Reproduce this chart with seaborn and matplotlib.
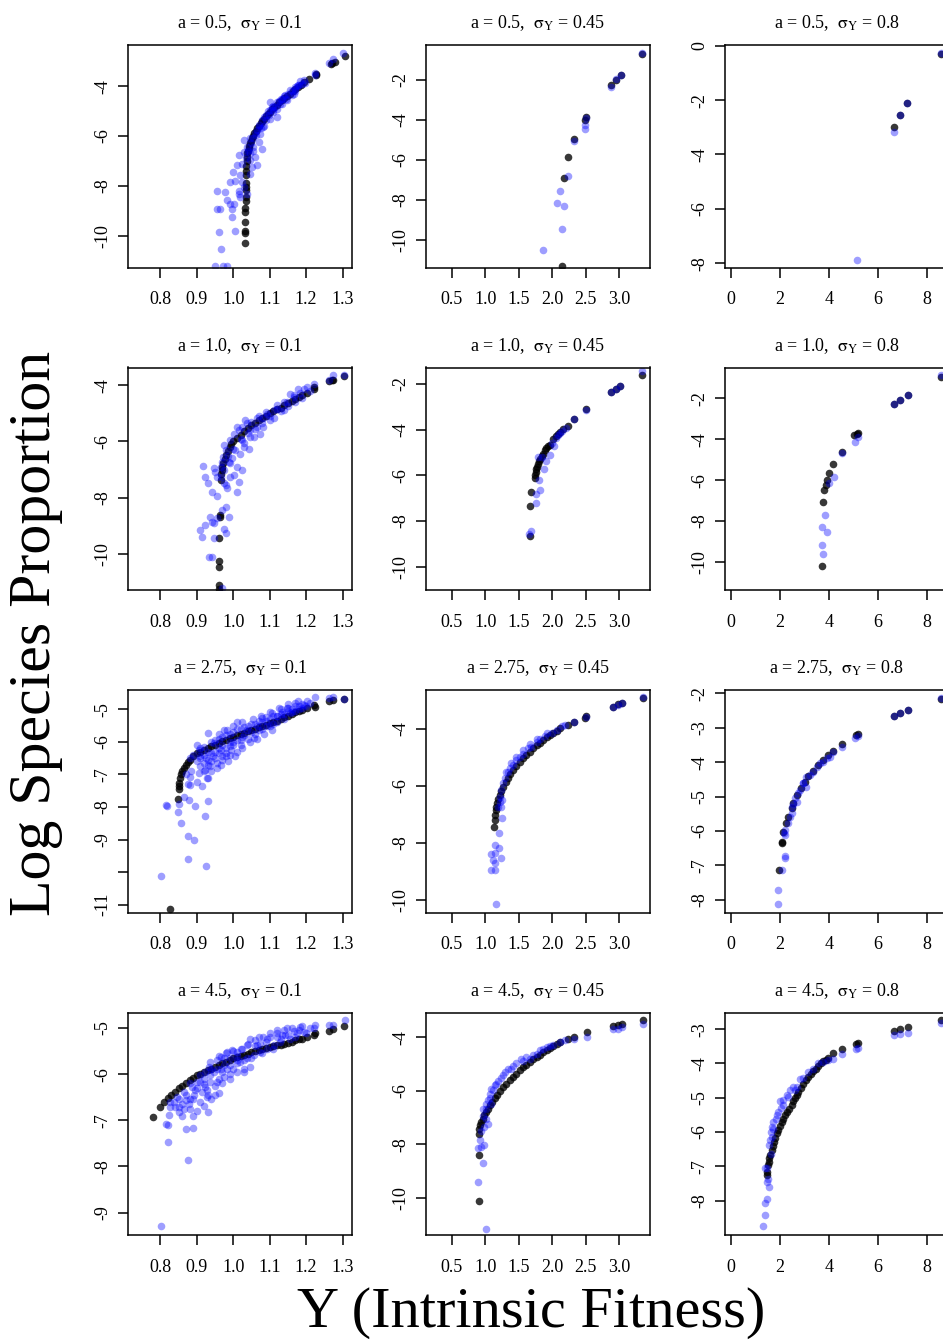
import numpy as np
import pandas as pd
import matplotlib
matplotlib.use("Agg")
import matplotlib.pyplot as plt
import seaborn as sns

# ---------------- data ----------------
A_VALUES = ["0.5", "1.0", "2.75", "4.5"]
SIGMAS = ["0.1", "0.45", "0.8"]

XTICKS_COL = [[0.8, 0.9, 1.0, 1.1, 1.2, 1.3],
              [0.5, 1.0, 1.5, 2.0, 2.5, 3.0],
              [0, 2, 4, 6, 8]]
XTICKLABELS_COL = [["0.8", "0.9", "1.0", "1.1", "1.2", "1.3"],
                   ["0.5", "1.0", "1.5", "2.0", "2.5", "3.0"],
                   ["0", "2", "4", "6", "8"]]
YTICKS = {
    (0, 0): [-4, -6, -8, -10], (0, 1): [-2, -4, -6, -8, -10], (0, 2): [0, -2, -4, -6, -8],
    (1, 0): [-4, -6, -8, -10], (1, 1): [-2, -4, -6, -8, -10], (1, 2): [-2, -4, -6, -8, -10],
    (2, 0): [-5, -6, -7, -8, -9, -10, -11], (2, 1): [-4, -6, -8, -10], (2, 2): [-2, -3, -4, -5, -6, -7, -8],
    (3, 0): [-5, -6, -7, -8, -9], (3, 1): [-4, -6, -8, -10], (3, 2): [-3, -4, -5, -6, -7, -8],
}
HIDDEN_YLABELS = {(2, 0): [-10]}

# black = fitted model, blue = observed
fit_11 = [(1.308,-2.79),(1.278,-3.02),(1.272,-3.07),(1.268,-3.10),(1.228,-3.52),(1.226,-3.55),(1.207,-3.73),
          (1.195,-3.85),(1.185,-3.95),(1.178,-4.03),(1.17,-4.12),(1.163,-4.2),(1.155,-4.3),(1.148,-4.38),(1.14,-4.47),
          (1.133,-4.56),(1.126,-4.65),(1.12,-4.74),(1.113,-4.83),(1.107,-4.92),(1.1,-5.02),(1.095,-5.1),(1.09,-5.2),
          (1.085,-5.3),(1.08,-5.4),(1.075,-5.5),(1.07,-5.6),(1.066,-5.7),(1.062,-5.8),(1.058,-5.9),(1.055,-6.0),
          (1.052,-6.1),(1.049,-6.2),(1.046,-6.3),(1.044,-6.4),(1.042,-6.5),(1.04,-6.6),(1.039,-6.7),(1.038,-6.85),
          (1.037,-7.0),(1.036,-7.2),(1.036,-7.4),(1.035,-7.55),(1.035,-7.9),(1.034,-8.05),(1.034,-8.15),(1.034,-8.45),
          (1.034,-8.6),(1.033,-8.9),(1.033,-9.05),(1.032,-9.45),(1.032,-9.8),(1.032,-9.9),(1.031,-10.3)]
obs_11 = [(0.951,-11.21),(0.972,-11.21),(0.983,-11.21),(0.955,-8.19),(0.954,-8.93),(0.963,-8.93),(0.96,-9.84),
          (0.965,-10.54),(0.978,-8.26),(0.983,-8.59),(0.99,-7.85),(0.992,-8.73),(0.997,-8.93),(0.997,-9.26),
          (1.001,-8.73),(1.006,-9.8),(0.999,-7.45),(1.006,-7.79),(1.01,-7.18),(1.015,-8.19),(1.015,-6.78),
          (1.019,-7.58),(1.024,-7.11),(1.015,-8.35),(1.024,-7.85),(1.029,-8.05),(1.019,-8.46),(1.038,-8.32),
          (1.029,-6.64),(1.03,-6.15),(1.038,-6.44),(1.045,-6.98),(1.051,-7.25),(1.047,-7.52),(1.06,-6.85),
          (1.065,-7.18),(1.054,-6.44),(1.07,-6.24),(1.079,-6.51),(1.062,-5.97),(1.074,-5.91),(1.082,-5.64),
          (1.09,-5.37),(1.07,-5.64),(1.097,-5.17),(1.102,-4.63),(1.109,-4.97),(1.12,-5.23),(1.115,-4.83),
          (1.129,-4.7),(1.134,-4.5),(1.143,-4.36),(1.147,-4.56),(1.156,-4.16),(1.166,-4.3),(1.17,-4.05),
          (1.179,-3.96),(1.184,-3.8),(1.198,-3.89),(1.193,-3.76),(1.225,-3.56),(1.225,-3.49),(1.262,-3.09),
          (1.275,-2.93),(1.301,-2.66),(1.05,-6.3),(1.055,-6.1),(1.06,-5.9),(1.065,-5.75),(1.07,-5.55),(1.08,-5.35),
          (1.085,-5.25),(1.09,-5.15),(1.095,-5.0),(1.1,-4.95),(1.105,-4.85),(1.11,-4.8),(1.12,-4.65),(1.125,-4.6),
          (1.13,-4.5),(1.14,-4.4),(1.15,-4.3),(1.16,-4.2),(1.17,-4.1),(1.175,-4.0),(1.18,-3.95),(1.19,-3.9),
          (1.045,-6.1),(1.04,-6.6),(1.035,-6.9),(1.045,-6.7),(1.055,-6.6),(1.075,-5.7),(1.085,-5.6),(1.1,-5.3),
          (1.11,-5.05),(1.12,-4.9),(1.135,-4.7),(1.145,-4.5),(1.16,-4.35),(1.17,-4.2)]

fit_12 = [(3.33,-0.72),(3.02,-1.77),(2.955,-2.0),(2.88,-2.27),(2.505,-3.87),(2.48,-4.0),(2.32,-4.97),
          (2.23,-5.83),(2.17,-6.9),(2.14,-11.3)]
obs_12 = [(3.33,-0.67),(3.02,-1.77),(2.955,-1.97),(2.88,-2.33),(2.505,-3.9),(2.485,-4.27),(2.48,-4.43),
          (2.32,-5.07),(2.23,-6.8),(2.11,-7.55),(2.07,-8.17),(2.17,-8.28),(2.14,-9.43),(1.86,-10.5)]

fit_13 = [(8.58,-0.29),(7.19,-2.12),(6.93,-2.55),(6.66,-3.0)]
obs_13 = [(8.58,-0.28),(7.19,-2.12),(6.93,-2.55),(6.66,-3.16),(5.16,-7.88)]

fit_21 = [(1.303,-3.68),(1.275,-3.8),(1.271,-3.82),(1.264,-3.85),(1.223,-4.08),(1.222,-4.15),(1.202,-4.27),
          (1.19,-4.35),(1.18,-4.42),(1.17,-4.5),(1.16,-4.57),(1.15,-4.64),(1.14,-4.72),(1.13,-4.8),(1.12,-4.86),
          (1.11,-4.93),(1.1,-5.0),(1.09,-5.08),(1.08,-5.15),(1.07,-5.24),(1.06,-5.33),(1.05,-5.42),(1.04,-5.52),
          (1.03,-5.63),(1.02,-5.76),(1.01,-5.88),(1.0,-6.0),(0.995,-6.1),(0.99,-6.2),(0.985,-6.33),(0.98,-6.49),
          (0.976,-6.63),(0.973,-6.75),(0.97,-6.9),(0.968,-7.03),(0.966,-7.14),(0.966,-7.37),(0.963,-8.62),
          (0.963,-8.67),(0.962,-9.44),(0.961,-10.24),(0.961,-10.47),(0.96,-11.1),(0.96,-11.25)]
obs_21 = [(0.917,-6.88),(0.923,-7.25),(0.93,-7.49),(0.946,-6.96),(0.954,-7.25),(0.942,-7.78),(0.955,-7.94),
          (0.951,-7.08),(0.974,-7.49),(0.983,-7.67),(0.979,-7.55),(0.992,-7.25),(1.001,-7.2),(1.01,-7.78),
          (1.015,-7.43),(1.024,-7.02),(1.01,-6.9),(0.987,-6.72),(0.996,-6.6),(0.974,-6.13),(1.006,-6.31),
          (1.019,-6.43),(1.029,-6.19),(1.042,-6.28),(1.01,-5.48),(1.033,-5.24),(1.047,-5.6),(1.056,-5.83),
          (1.065,-5.48),(1.074,-5.72),(1.083,-5.18),(1.102,-5.22),(1.111,-4.89),(1.12,-4.71),(1.138,-4.59),
          (1.157,-4.3),(1.166,-4.41),(1.179,-4.15),(1.193,-4.12),(1.202,-4.06),(1.222,-3.94),(1.262,-3.8),
          (1.275,-3.64),(1.303,-3.64),(0.91,-9.15),(0.914,-9.38),(0.923,-8.97),(0.935,-8.67),(0.942,-8.85),
          (0.948,-8.91),(0.954,-8.73),(0.97,-8.44),(0.979,-8.32),(0.987,-8.67),(0.974,-9.12),(0.979,-9.24),
          (0.946,-9.44),(0.933,-10.12),(0.942,-10.12),(0.97,-11.22),(0.965,-6.9),(0.97,-6.72),(0.972,-6.54),
          (0.979,-6.31),(0.992,-5.95),(1.001,-5.72),(1.015,-5.6),(1.024,-5.48),(1.038,-5.36),(1.065,-5.18),
          (1.093,-5.01),(1.12,-4.83),(1.147,-4.59),(1.166,-4.35),(1.184,-4.27),(0.965,-7.25),(0.974,-7.02),
          (0.992,-6.78),(1.024,-5.95),(1.047,-5.83),(1.083,-5.48),(1.111,-5.18),(1.138,-4.89),
          (1.0,-6.25),(1.02,-5.9),(1.04,-5.7),(1.06,-5.55),(1.08,-5.35),(1.1,-5.1),(1.13,-4.9),(1.15,-4.75),
          (1.17,-4.6),(1.19,-4.45),(1.21,-4.2),(0.985,-6.5),(1.03,-6.05),(1.05,-5.3),(1.07,-5.1),(1.09,-4.95)]

fit_22 = [(3.33,-1.6),(3.01,-2.09),(2.955,-2.22),(2.88,-2.34),(2.495,-3.11),(2.32,-3.55),(2.23,-3.83),
          (2.16,-3.97),(2.08,-4.2),(2.01,-4.43),(1.96,-4.66),(1.91,-4.82),(1.86,-5.05),(1.82,-5.28),(1.79,-5.51),
          (1.76,-5.74),(1.74,-6.0),(1.74,-6.12),(1.69,-6.71),(1.67,-7.32),(1.67,-8.66),(2.11,-4.12),(2.06,-4.28),
          (1.94,-4.74),(1.89,-4.89),(1.84,-5.17),(1.8,-5.38),(1.77,-5.63),(1.75,-5.85)]
obs_22 = [(3.33,-1.45),(3.01,-2.09),(2.955,-2.22),(2.88,-2.34),(2.495,-3.14),(2.32,-3.55),(2.21,-3.94),
          (2.15,-4.05),(2.08,-4.25),(2.06,-4.35),(2.02,-4.74),(1.96,-5.12),(1.91,-5.38),(1.87,-5.74),(1.84,-5.2),
          (1.8,-6.2),(1.81,-6.66),(1.76,-6.82),(1.75,-7.23),(1.68,-8.43),(1.66,-8.58),(1.67,-11.2),(1.79,-5.2),
          (1.99,-4.58),(2.11,-4.15)]

fit_23 = [(8.58,-0.96),(7.22,-1.84),(6.93,-2.05),(6.66,-2.28),(5.18,-3.68),(5.14,-3.75),(5.03,-3.8),
          (4.54,-4.61),(4.18,-5.23),(4.02,-5.67),(3.91,-6.0),(3.87,-6.26),(3.8,-6.49),(3.77,-7.09),(3.71,-10.21)]
obs_23 = [(8.58,-0.87),(7.22,-1.84),(6.93,-2.05),(6.66,-2.28),(5.18,-3.91),(5.05,-4.12),(4.54,-4.69),
          (4.2,-5.84),(4.02,-6.13),(3.84,-7.71),(3.71,-8.32),(3.94,-8.53),(3.71,-9.18),(3.77,-9.62)]

fit_31 = [(1.303,-4.68),(1.274,-4.71),(1.262,-4.76),(1.225,-4.92),(1.222,-4.87),(1.202,-4.97),(1.19,-5.02),
          (1.18,-5.06),(1.17,-5.1),(1.16,-5.15),(1.15,-5.2),(1.14,-5.25),(1.13,-5.3),(1.12,-5.35),(1.11,-5.39),
          (1.1,-5.43),(1.09,-5.47),(1.08,-5.51),(1.07,-5.55),(1.06,-5.6),(1.05,-5.64),(1.04,-5.68),(1.03,-5.72),
          (1.02,-5.76),(1.01,-5.8),(1.0,-5.84),(0.99,-5.89),(0.98,-5.94),(0.97,-5.99),(0.96,-6.04),(0.95,-6.09),
          (0.94,-6.14),(0.93,-6.19),(0.92,-6.24),(0.91,-6.3),(0.9,-6.35),(0.89,-6.44),(0.88,-6.55),(0.875,-6.62),
          (0.87,-6.71),(0.865,-6.8),(0.86,-6.91),(0.857,-7.0),(0.855,-7.12),(0.852,-7.25),(0.85,-7.37),
          (0.85,-7.45),(0.849,-7.76),(0.827,-11.13)]
obs_31 = [(0.802,-10.11),(0.814,-7.93),(0.818,-7.96),(0.848,-8.14),(0.85,-7.9),(0.857,-8.5),(0.866,-7.68),
          (0.878,-7.78),(0.876,-8.9),(0.876,-9.6),(0.893,-9.01),(0.894,-7.96),(0.882,-7.09),(0.882,-7.32),
          (0.901,-7.22),(0.905,-6.96),(0.914,-7.35),(0.922,-8.29),(0.93,-7.83),(0.926,-9.82),(0.928,-7.12),
          (0.923,-6.86),(0.919,-6.66),(0.932,-6.71),(0.955,-6.66),(0.969,-6.45),(0.91,-6.5),(0.905,-6.25),
          (0.932,-5.74),(0.946,-6.04),(0.965,-6.25),(0.979,-6.35),(0.992,-6.14),(0.983,-5.63),(1.01,-5.38),
          (1.024,-5.84),(1.038,-5.63),(1.056,-5.89),(1.065,-5.53),(1.079,-5.28),(1.093,-5.53),(1.106,-5.12),
          (1.12,-5.22),(1.134,-5.07),(1.147,-4.97),(1.156,-5.12),(1.17,-4.82),(1.179,-4.76),(1.193,-4.87),
          (1.202,-4.76),(1.225,-4.64),(1.262,-4.66),(1.275,-4.63),(1.303,-4.68),(0.88,-6.5),(0.89,-6.4),
          (0.9,-6.6),(0.91,-6.2),(0.92,-6.4),(0.93,-6.3),(0.94,-6.0),(0.95,-6.3),(0.96,-5.9),(0.97,-6.1),
          (0.98,-5.8),(0.99,-6.0),(1.0,-5.7),(1.01,-5.95),(1.02,-5.6),(1.03,-5.8),(1.04,-5.5),(1.05,-5.7),
          (1.06,-5.45),(1.07,-5.65),(1.08,-5.4),(1.09,-5.35),(1.1,-5.3),(1.11,-5.45),(1.12,-5.2),(1.13,-5.15),
          (1.14,-5.3),(1.15,-5.05),(1.16,-5.0),(1.17,-5.05),(1.18,-4.9),(1.19,-4.95),(0.95,-6.5),(0.96,-6.35),
          (0.97,-6.55),(0.98,-6.2),(0.99,-6.4),(1.0,-6.1),(1.01,-6.3),(1.02,-5.95),(0.94,-6.6),(0.92,-6.9),
          (0.93,-7.1),(0.94,-6.9),(0.885,-6.9),(0.87,-7.0),(0.875,-7.3),
          (0.9,-6.1),(0.91,-6.45),(0.92,-6.15),(0.93,-6.55),(0.94,-6.35),(0.95,-5.95),(0.96,-6.2),(0.97,-5.85),
          (0.98,-6.45),(0.99,-5.75),(1.0,-6.0),(1.01,-5.6),(1.02,-6.1),(1.03,-5.55),(1.04,-5.9),(1.05,-5.45),
          (1.06,-5.75),(1.07,-5.35),(1.08,-5.6),(1.09,-5.25),(1.1,-5.5),(1.11,-5.2),(1.12,-5.4),(1.13,-5.0),
          (1.14,-5.15),(1.15,-4.95),(1.16,-5.1),(1.17,-4.9),(1.18,-5.0),(1.19,-4.85),(1.2,-4.9),(1.21,-4.8),
          (0.935,-6.75),(0.955,-6.8),(0.965,-6.7),(0.985,-6.6),(0.995,-6.25),(1.005,-6.45),(1.025,-6.2),
          (1.045,-6.0),(1.065,-5.9),(1.085,-5.75),(1.105,-5.65),(0.91,-6.75),(0.925,-6.5),(0.945,-6.45),
          (0.96,-5.75),(0.975,-5.65),(1.0,-5.5),(1.025,-5.4),(1.055,-5.3),(1.075,-5.2),(1.1,-5.1),(1.125,-4.95),
          (1.15,-4.85)]

fit_32 = [(3.35,-2.91),(3.04,-3.08),(2.975,-3.13),(2.9,-3.22),(2.505,-3.54),(2.49,-3.61),(2.33,-3.74),
          (2.23,-3.86),(2.115,-3.98),(2.015,-4.15),(1.915,-4.29),(1.815,-4.48),(1.715,-4.68),(1.615,-4.91),
          (1.515,-5.15),(1.415,-5.44),(1.34,-5.73),(1.265,-6.02),(1.215,-6.32),(1.175,-6.61),(1.155,-6.84),
          (1.14,-7.19),(1.125,-7.43),(2.065,-4.06),(1.965,-4.22),(1.865,-4.39),(1.765,-4.57),(1.665,-4.8),
          (1.565,-5.03),(1.465,-5.29),(1.375,-5.58),(1.305,-5.87),(1.24,-6.16),(1.195,-6.46),(1.165,-6.73),
          (1.145,-7.02)]
obs_32 = [(3.35,-2.87),(3.04,-3.1),(2.975,-3.16),(2.9,-3.22),(2.505,-3.59),(2.33,-3.74),(2.19,-3.86),
          (2.14,-3.89),(2.065,-4.04),(1.99,-4.13),(1.89,-4.25),(1.815,-4.36),(1.765,-4.44),(1.69,-4.62),
          (1.64,-4.68),(1.565,-4.88),(1.515,-4.97),(1.465,-5.09),(1.415,-5.26),(1.365,-5.38),(1.315,-5.5),
          (1.29,-5.73),(1.265,-5.91),(1.24,-6.14),(1.215,-6.37),(1.255,-6.49),(1.19,-6.73),(1.24,-6.73),
          (1.255,-7.13),(1.2,-7.64),(1.15,-8.07),(1.2,-8.19),(1.09,-8.39),(1.14,-8.34),(1.115,-8.6),(1.23,-8.54),
          (1.15,-8.69),(1.08,-8.95),(1.15,-8.95),(1.155,-10.14),(1.465,-4.99),(1.565,-4.74),(1.665,-4.53),
          (1.765,-4.36),(1.915,-4.15),(1.34,-5.5),(1.39,-5.2),(1.215,-6.55)]

fit_33 = [(8.58,-2.17),(7.22,-2.48),(6.93,-2.58),(6.66,-2.66),(5.18,-3.18),(5.11,-3.22),(4.54,-3.48),
          (4.18,-3.67),(3.98,-3.79),(3.77,-3.94),(3.57,-4.08),(3.37,-4.25),(3.16,-4.4),(3.02,-4.57),(2.85,-4.76),
          (2.68,-4.95),(2.55,-5.19),(2.48,-5.34),(2.34,-5.58),(2.25,-5.78),(2.14,-6.02),(2.07,-6.31),
          (2.07,-6.36),(1.98,-7.13)]
obs_33 = [(8.58,-2.12),(7.22,-2.48),(6.93,-2.58),(6.66,-2.66),(5.18,-3.24),(5.07,-3.31),(4.54,-3.57),
          (4.18,-3.69),(4.05,-3.84),(3.91,-3.89),(3.77,-3.98),(3.64,-4.03),(3.53,-4.13),(3.37,-4.27),(3.07,-4.42),
          (3.23,-4.37),(3.07,-4.71),(2.93,-4.59),(2.82,-4.81),(2.75,-4.9),(2.68,-5.15),(2.55,-5.21),(2.48,-5.48),
          (2.41,-5.58),(2.34,-5.78),(2.21,-5.97),(2.17,-6.05),(2.21,-6.11),(2.21,-6.72),(2.21,-6.79),(2.07,-7.13),
          (1.91,-7.73),(1.91,-8.12),(2.48,-5.29),(2.62,-5.05),(2.96,-4.61)]

fit_41 = [(1.303,-4.96),(1.274,-5.03),(1.262,-5.07),(1.225,-5.12),(1.222,-5.16),(1.202,-5.2),(1.19,-5.23),
          (1.18,-5.25),(1.17,-5.27),(1.16,-5.3),(1.15,-5.32),(1.14,-5.34),(1.13,-5.36),(1.12,-5.37),(1.11,-5.39),
          (1.1,-5.41),(1.09,-5.44),(1.08,-5.46),(1.07,-5.48),(1.06,-5.51),(1.05,-5.53),(1.04,-5.56),(1.03,-5.58),
          (1.02,-5.61),(1.01,-5.63),(1.0,-5.66),(0.99,-5.7),(0.98,-5.73),(0.97,-5.77),(0.96,-5.8),(0.95,-5.84),
          (0.94,-5.88),(0.93,-5.92),(0.92,-5.95),(0.91,-5.99),(0.9,-6.03),(0.89,-6.08),(0.88,-6.13),(0.87,-6.19),
          (0.86,-6.25),(0.85,-6.31),(0.84,-6.38),(0.83,-6.45),(0.82,-6.52),(0.81,-6.61),(0.8,-6.71),(0.78,-6.93)]
obs_41 = [(1.307,-4.83),(1.274,-4.94),(1.262,-4.93),(1.225,-4.93),(1.222,-5.01),(1.184,-4.98),(1.166,-5.07),
          (1.147,-5.01),(1.134,-5.16),(1.12,-5.05),(1.102,-5.12),(1.083,-5.19),(1.074,-5.34),(1.06,-5.27),
          (1.047,-5.23),(1.038,-5.38),(1.024,-5.45),(1.01,-5.52),(0.997,-5.48),(0.983,-5.52),(0.974,-5.66),
          (0.965,-5.63),(0.955,-5.7),(0.937,-5.74),(0.933,-5.84),(0.923,-5.95),(0.91,-6.03),(0.901,-6.17),
          (0.919,-6.21),(0.928,-6.35),(0.914,-6.39),(0.896,-6.35),(0.882,-6.53),(0.891,-6.46),(0.869,-6.57),
          (0.878,-6.64),(0.86,-6.64),(0.85,-6.71),(0.841,-6.71),(0.827,-6.71),(0.825,-6.6),(0.85,-6.82),
          (0.864,-6.75),(0.882,-6.75),(0.823,-6.89),(0.816,-7.09),(0.82,-7.11),(0.89,-6.91),(0.93,-6.83),
          (0.869,-7.18),(0.89,-7.17),(0.821,-7.48),(0.876,-7.87),(0.802,-9.3),(0.928,-6.49),(0.923,-6.28),
          (0.937,-6.17),(0.955,-6.17),(0.974,-6.06),(0.992,-5.99),(1.01,-5.95),(1.029,-5.88),(1.047,-5.84),
          (0.983,-5.88),(0.946,-5.95),(0.965,-5.88),(1.019,-5.74),(1.038,-5.66),(1.056,-5.59),(1.074,-5.52),
          (1.093,-5.45),(1.111,-5.38),(1.129,-5.3),(1.156,-5.23),(1.175,-5.12),(1.193,-5.09),(0.992,-5.66),
          (1.01,-5.7),(0.974,-5.81),(0.955,-5.88),(0.937,-6.03),(0.91,-6.17),(0.887,-6.28),(0.864,-6.39),
          (0.846,-6.49),(0.837,-6.6),(1.093,-5.23),(1.065,-5.38),(1.12,-5.19),(1.143,-5.16),
          (0.88,-6.2),(0.89,-6.55),(0.9,-6.3),(0.91,-6.6),(0.92,-6.1),(0.93,-6.45),(0.94,-5.9),(0.95,-6.25),
          (0.96,-5.6),(0.96,-6.1),(0.97,-5.95),(0.98,-5.55),(0.99,-5.8),(1.0,-5.5),(1.0,-5.9),(1.01,-5.6),
          (1.02,-5.45),(1.03,-5.7),(1.04,-5.35),(1.05,-5.65),(1.06,-5.4),(1.07,-5.2),(1.08,-5.55),(1.09,-5.3),
          (1.1,-5.2),(1.11,-5.45),(1.12,-5.1),(1.13,-5.25),(1.14,-5.05),(1.15,-5.15),(1.16,-5.0),(1.17,-5.2),
          (1.18,-5.05),(1.19,-4.95),(1.2,-5.1),(1.21,-5.0),(0.95,-6.45),(0.97,-6.2),(0.99,-6.1),(1.01,-5.75),
          (1.03,-5.95),(0.86,-6.9),(0.9,-6.8),(0.92,-6.7),(0.85,-6.55),(0.87,-6.45),(0.94,-6.55),(0.96,-6.4)]

fit_42 = [(3.35,-3.35),(3.04,-3.5),(2.975,-3.54),(2.9,-3.57),(2.515,-3.81),(2.33,-3.98),(2.23,-4.06),
          (2.115,-4.19),(2.015,-4.34),(1.915,-4.48),(1.815,-4.66),(1.715,-4.83),(1.615,-5.03),(1.515,-5.24),
          (1.415,-5.49),(1.315,-5.74),(1.215,-6.02),(1.14,-6.27),(1.065,-6.55),(1.005,-6.8),(0.965,-7.04),
          (0.93,-7.29),(0.915,-7.42),(0.915,-7.63),(0.915,-8.41),(0.915,-10.12),(2.065,-4.26),(1.965,-4.41),
          (1.865,-4.57),(1.765,-4.75),(1.665,-4.93),(1.565,-5.13),(1.465,-5.37),(1.365,-5.61),(1.265,-5.88),
          (1.175,-6.15),(1.1,-6.41),(1.035,-6.67),(0.985,-6.92),(0.945,-7.17)]
obs_42 = [(3.35,-3.53),(3.04,-3.63),(2.975,-3.71),(2.9,-3.69),(2.515,-4.0),(2.33,-4.06),(2.19,-4.12),
          (2.115,-4.19),(2.015,-4.29),(1.915,-4.37),(1.815,-4.5),(1.715,-4.66),(1.615,-4.75),(1.54,-4.83),
          (1.465,-4.96),(1.415,-5.06),(1.34,-5.2),(1.29,-5.3),(1.24,-5.53),(1.19,-5.65),(1.14,-5.8),(1.09,-5.93),
          (1.065,-6.11),(1.04,-6.36),(1.005,-6.48),(0.965,-6.67),(1.015,-6.7),(1.09,-6.48),(0.965,-6.94),
          (1.005,-7.04),(1.04,-7.23),(0.975,-7.35),(0.94,-7.52),(0.925,-7.85),(0.94,-8.1),(0.89,-8.14),
          (0.975,-8.04),(0.965,-8.71),(0.9,-9.4),(1.015,-11.17),(1.665,-4.83),(1.765,-4.62),(1.865,-4.46),
          (1.965,-4.34),(1.565,-4.91),(1.39,-5.18),(1.265,-5.43),(1.165,-5.74),(1.115,-5.99),(1.065,-6.27)]

fit_43 = [(8.58,-2.74),(7.22,-2.93),(6.93,-3.0),(6.66,-3.05),(5.18,-3.4),(5.11,-3.43),(4.54,-3.59),
          (4.18,-3.71),(3.98,-3.84),(3.77,-3.93),(3.57,-4.07),(3.37,-4.23),(3.16,-4.39),(2.96,-4.59),(2.75,-4.83),
          (2.62,-5.0),(2.48,-5.2),(2.3,-5.41),(2.14,-5.61),(2.0,-5.82),(1.87,-6.04),(1.76,-6.29),(1.66,-6.53),
          (1.57,-6.77),(1.53,-6.97),(1.49,-7.16),(1.49,-7.26),(3.88,-3.89),(3.66,-4.0),(3.47,-4.15),(3.26,-4.3),
          (3.07,-4.49),(2.85,-4.71),(2.68,-4.91),(2.55,-5.1),(2.38,-5.32),(2.22,-5.51),(2.07,-5.72),(1.93,-5.94),
          (1.81,-6.17),(1.7,-6.4),(1.61,-6.66),(1.54,-6.87)]
obs_43 = [(8.58,-2.83),(7.22,-3.1),(6.93,-3.14),(6.66,-3.18),(5.18,-3.54),(5.11,-3.58),(4.54,-3.73),
          (4.18,-3.88),(3.98,-3.9),(3.77,-3.95),(3.57,-4.0),(3.37,-4.15),(3.16,-4.25),(2.96,-4.42),(2.82,-4.44),
          (2.71,-4.68),(2.55,-4.68),(2.41,-4.78),(2.28,-4.93),(2.11,-5.07),(2.03,-5.3),(1.93,-5.41),(1.84,-5.61),
          (1.73,-5.7),(1.68,-5.85),(1.62,-6.0),(1.59,-6.24),(1.57,-6.39),(1.62,-6.63),(1.49,-7.05),(1.38,-7.05),
          (1.53,-7.36),(1.57,-7.6),(1.49,-7.46),(1.49,-7.96),(1.38,-8.06),(1.4,-8.41),(1.32,-8.75),(2.0,-5.1),
          (2.14,-5.22),(2.34,-4.98),(2.62,-4.78),(1.87,-5.51),(1.73,-5.9),(1.66,-6.14)]

FITS = [[fit_11, fit_12, fit_13], [fit_21, fit_22, fit_23], [fit_31, fit_32, fit_33], [fit_41, fit_42, fit_43]]
OBS = [[obs_11, obs_12, obs_13], [obs_21, obs_22, obs_23], [obs_31, obs_32, obs_33], [obs_41, obs_42, obs_43]]

XLIMS = [(0.711, 1.326), (0.118, 3.456), (-0.245, 8.913)]
YLIMS = [[(-11.28, -2.35), (-11.38, -0.25), (-8.16, 0.03)],
         [(-11.28, -3.37), (-11.01, -1.29), (-11.39, -0.48)],
         [(-11.24, -4.41), (-10.44, -2.63), (-8.37, -1.90)],
         [(-9.49, -4.67), (-11.39, -3.09), (-9.01, -2.52)]]

# ---------------- drawing ----------------
sns.set_theme(style="ticks")
plt.rcParams["font.family"] = ["Liberation Serif", "DejaVu Serif"]
plt.rcParams["mathtext.fontset"] = "stix"
plt.rcParams["text.color"] = "black"

W, H = 943, 1342
fig = plt.figure(figsize=(W / 100, H / 100), dpi=100)
fig.patch.set_facecolor("white")

COL_LEFT = [128, 426, 725]
ROW_TOP = [45, 367.5, 690, 1012.7]
AX_W, AX_H = 224, 222.5

for r in range(4):
    for c in range(3):
        ax = fig.add_axes([COL_LEFT[c] / W, 1 - (ROW_TOP[r] + AX_H) / H, AX_W / W, AX_H / H])
        ax.set_facecolor("white")
        fit = pd.DataFrame(FITS[r][c], columns=["x", "y"])
        obs = pd.DataFrame(OBS[r][c], columns=["x", "y"])
        sns.scatterplot(data=fit, x="x", y="y", color="black", alpha=0.78, s=30, linewidth=0, ax=ax)
        sns.scatterplot(data=obs, x="x", y="y", color="#0000ff", alpha=0.38, s=30, linewidth=0, ax=ax)
        ax.set_xlim(*XLIMS[c])
        ax.set_ylim(*YLIMS[r][c])
        ax.set_xlabel("")
        ax.set_ylabel("")
        ax.set_xticks(XTICKS_COL[c])
        ax.set_xticklabels(XTICKLABELS_COL[c])
        yt = YTICKS[(r, c)]
        hidden = HIDDEN_YLABELS.get((r, c), [])
        ax.set_yticks(yt)
        ax.set_yticklabels(["" if v in hidden else str(v) for v in yt], rotation=90, va="center")
        for sp in ax.spines.values():
            sp.set_visible(True)
            sp.set_color("black")
            sp.set_linewidth(1.1)
        ax.tick_params(axis="both", direction="out", length=7, width=1.1, color="black",
                       labelsize=13, labelcolor="black")
        ax.tick_params(axis="x", pad=10)
        ax.tick_params(axis="y", pad=5)
        ax.grid(False)
        ax.set_title(f"a = {A_VALUES[r]},  " + r"$\mathrm{\sigma_Y}$" + f" = {SIGMAS[c]}",
                     fontsize=13, pad=12, color="black")

fig.text(531 / W, 1 - 1313 / H, "Y (Intrinsic Fitness)", fontsize=42, ha="center", va="center",
         color="black")
fig.text(36 / W, 1 - 633 / H, "Log Species Proportion", fontsize=43, ha="center", va="center",
         rotation=90, color="black")

fig.savefig("out.png", dpi=100, facecolor="white")
